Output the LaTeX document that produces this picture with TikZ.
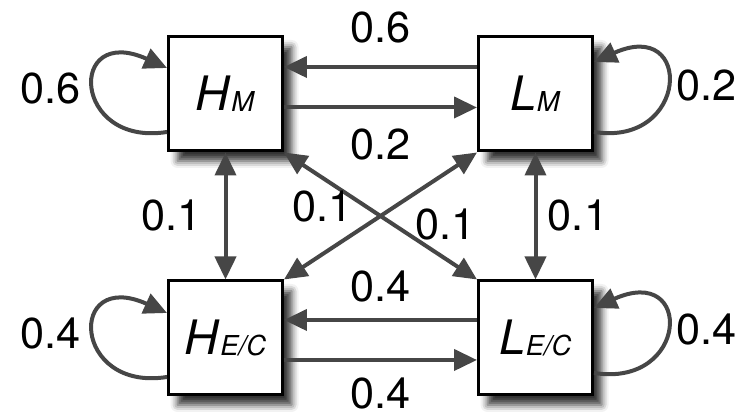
\documentclass[tikz,border=0pt]{standalone}
\usepackage{fontspec}
\setmainfont{TeX Gyre Heros}
\usepackage{tikz}
\usetikzlibrary{arrows.meta, shadows.blur}
\definecolor{arrowgray}{HTML}{464646}

\newcommand{\statename}[2]{\fontsize{13.5}{15}\selectfont\textit{#1}\raisebox{-0.4pt}{\fontsize{7.8}{9}\selectfont\textit{#2}}}

\begin{document}
\begin{tikzpicture}[
  state/.style={draw, line width=0.85pt, fill=white, minimum size=1.14cm, inner sep=0pt,
    blur shadow={shadow xshift=0.9mm, shadow yshift=-1mm, shadow blur radius=0.7mm, shadow opacity=80}},
  arr/.style={draw=arrowgray, line width=0.4mm, -{Triangle[length=2.3mm,width=2.1mm]}},
  dbl/.style={arr, {Triangle[length=2.3mm,width=2.1mm]}-{Triangle[length=2.3mm,width=2.1mm]}},
  lab/.style={font=\fontsize{12.3}{14}\selectfont, inner sep=0pt}
]
\useasboundingbox (0,0) rectangle (7.47,4.14);
\node[state] (HM) at (2.255,3.20) {\statename{H}{M}};
\node[state] (LM) at (5.355,3.20) {\statename{L}{M}};
\node[state] (HEC) at (2.255,0.76) {\statename{H}{E/C}};
\node[state] (LEC) at (5.355,0.76) {\statename{L}{E/C}};
% horizontal
\draw[arr] ([yshift=2.7mm]LM.west) -- ([yshift=2.7mm]HM.east) node[lab, midway, yshift=3.9mm]{0.6};
\draw[arr] ([yshift=-1.35mm]HM.east) -- ([yshift=-1.35mm]LM.west) node[lab, midway, yshift=-3.7mm]{0.2};
\draw[arr] ([yshift=1.8mm]LEC.west) -- ([yshift=1.8mm]HEC.east) node[lab, midway, yshift=3.3mm]{0.4};
\draw[arr] ([yshift=-2.2mm]HEC.east) -- ([yshift=-2.2mm]LEC.west) node[lab, midway, yshift=-3.4mm]{0.4};
% vertical
\draw[dbl] (HM) -- (HEC) node[lab, midway, xshift=-5.4mm]{0.1};
\draw[dbl] (LM) -- (LEC) node[lab, midway, xshift=4.25mm]{0.1};
% diagonal
\draw[dbl] (HM.south east) -- (LEC.north west) node[lab, pos=0.2, yshift=-2.9mm]{0.1};
\draw[dbl] (LM.south west) -- (HEC.north east) node[lab, pos=0.165, yshift=-5.1mm]{0.1};
% self loops
\draw[arr] ([yshift=-3.8mm]HM.west) .. controls +(-0.95,-0.15) and +(-1.0,0.45) .. ([yshift=2.6mm]HM.west) node[lab, midway, xshift=-4.3mm]{0.6};
\draw[arr] ([yshift=-3.8mm]LM.east) .. controls +(0.95,-0.15) and +(1.0,0.45) .. ([yshift=3.2mm]LM.east) node[lab, midway, xshift=3.9mm]{0.2};
\draw[arr] ([yshift=-3.9mm]HEC.west) .. controls +(-0.95,-0.15) and +(-1.0,0.45) .. ([yshift=2.5mm]HEC.west) node[lab, midway, xshift=-4.3mm]{0.4};
\draw[arr] ([yshift=-3.5mm]LEC.east) .. controls +(0.95,-0.15) and +(1.0,0.45) .. ([yshift=3.0mm]LEC.east) node[lab, midway, xshift=3.9mm]{0.4};
\end{tikzpicture}
\end{document}
